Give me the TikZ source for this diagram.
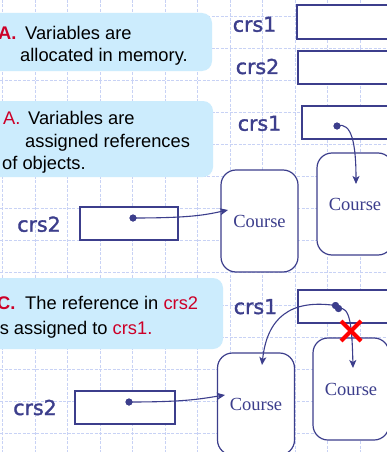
\documentclass[tikz,border=0pt]{standalone}
\usepackage{fontspec}
\setmainfont{Liberation Sans}
\newfontfamily\crsfont[FakeBold=1.6]{DejaVu Sans}
\newfontfamily\coursefont{Liberation Serif}
\usetikzlibrary{arrows.meta}
\definecolor{navy}{RGB}{60,62,140}
\definecolor{notefill}{RGB}{204,236,253}
\definecolor{notered}{RGB}{204,0,40}
\definecolor{gridc}{RGB}{200,210,245}
\definecolor{xred}{RGB}{255,0,0}
\begin{document}
\begin{tikzpicture}[x=1pt,y=-1pt,
  note/.style={fill=notefill, draw=none, rounded corners=10pt, inner sep=0},
  txt/.style={anchor=base west, inner sep=0, font=\fontsize{18.3}{22}\selectfont},
  varname/.style={anchor=base, inner sep=0, text=navy, font=\crsfont\fontsize{20.5}{24}\selectfont},
  varbox/.style={draw=navy, fill=white, line width=1.1pt, inner sep=0},
  course/.style={draw=navy, fill=white, line width=1.2pt, rounded corners=15pt, minimum width=77pt, minimum height=102pt, text=navy, font=\coursefont\fontsize{18.5}{22}\selectfont, inner sep=0},
  dot/.style={circle, fill=navy, inner sep=0, minimum size=7pt},
  ptr/.style={draw=navy, line width=1.1pt, -{Stealth[length=8pt,width=7pt,inset=2pt]}},
  gridline/.style={draw=gridc, line width=0.8pt, dash pattern=on 3pt off 1.5pt},
  cross/.style={draw=xred, line width=4pt}
]
\useasboundingbox (0,0) rectangle (387,452);
\clip (0,0) rectangle (387,452);
\fill[white] (0,0) rectangle (387,452);
\foreach \k in {0,...,11} \draw[gridline] ({2.5+32.5*\k},0) -- ({2.5+32.5*\k},452);
\foreach \k in {0,...,13} \draw[gridline] (0,{16+32.1*\k}) -- (387,{16+32.1*\k});

% note boxes
\node[note, minimum width=232pt, minimum height=58pt] (note1) at (96,42) {};
\node[note, minimum width=233pt, minimum height=76pt] (note2) at (96.5,139) {};
\node[note, minimum width=243pt, minimum height=71pt] (note3) at (101.5,313.5) {};

% note texts
\node[txt, text=notered, font=\fontsize{18.3}{22}\selectfont\bfseries] (tA1) at (-2,39.5) {A.};
\node[txt] (t1a) at (25,39.5) {Variables are};
\node[txt] (t1b) at (20,61.7) {allocated in memory.};

\node[txt, text=notered] (tA2) at (3,124.3) {A.};
\node[txt] (t2a) at (28,124.3) {Variables are};
\node[txt] (t2b) at (25,147) {assigned references};
\node[txt] (t2c) at (2,169.5) {of objects.};

\node[txt, text=notered, font=\fontsize{18.3}{22}\selectfont\bfseries] (tC) at (-3,309.3) {C.};
\node[txt] (t3a) at (25,309.3) {The reference in \textcolor{notered}{crs2}};
\node[txt] (t3b) at (-4.5,334) {is assigned to \textcolor{notered}{crs1.}};

% variable names
\node[varname] (l1) at (254.5,31.7) {crs1};
\node[varname] (l2) at (257.5,74) {crs2};
\node[varname] (l3) at (259.5,130.7) {crs1};
\node[varname] (l4) at (39,231.7) {crs2};
\node[varname] (l5) at (255.5,314) {crs1};
\node[varname] (l6) at (35,415) {crs2};

% variable boxes
\node[varbox, minimum width=100pt, minimum height=34pt] (v1) at (347,22) {};
\node[varbox, minimum width=100pt, minimum height=33pt] (v2) at (348,67.5) {};
\node[varbox, minimum width=100pt, minimum height=33pt] (v3) at (352,122.5) {};
\node[varbox, minimum width=98pt, minimum height=33pt] (v4) at (129,223.5) {};
\node[varbox, minimum width=100pt, minimum height=33pt] (v5) at (348,306.5) {};
\node[varbox, minimum width=100pt, minimum height=33pt] (v6) at (125,407.5) {};

% course objects
\node[course] (c1) at (259.5,221) {Course};
\node[course, minimum width=76pt] (c2) at (355,204) {Course};
\node[course] (c3) at (256,404) {Course};
\node[course, minimum width=76pt] (c4) at (351,389) {Course};

% arrow ends
\coordinate (t3) at (356,184);
\coordinate (t4) at (228,210);
\coordinate (t5a) at (262,365);
\coordinate (t5b) at (353,368);
\coordinate (t6) at (225,395);

% dots
\node[dot] (d3) at (337,126) {};
\node[dot] (d4) at (133,218) {};
\node[dot] (d5) at (338.5,308.5) {};
\node[dot] (d5b) at (335.5,305.5) {};
\node[dot] (d6) at (129,402) {};

% connectors
\draw[ptr] (d3.center) .. controls (352,121) and (356,145) .. (t3);
\draw[ptr] (d4.center) .. controls (190,218) and (205,215) .. (t4);
\draw[ptr] (d5b.center) .. controls (290,299) and (267,318) .. (t5a);
\draw[ptr] (d5.center) .. controls (350,306) and (352,325) .. (t5b);
\draw[ptr] (d6.center) .. controls (185,402) and (200,399) .. (t6);

\node[dot] at (d3) {};
\node[dot] at (d4) {};
\node[dot] at (d5) {};
\node[dot] at (d5b) {};
\node[dot] at (d6) {};

% red cross
\coordinate (xc) at (351,331);
\draw[cross] ([shift={(-10,-10)}]xc) -- ([shift={(10,10)}]xc);
\draw[cross] ([shift={(10,-10)}]xc) -- ([shift={(-10,10)}]xc);
\end{tikzpicture}
\end{document}
